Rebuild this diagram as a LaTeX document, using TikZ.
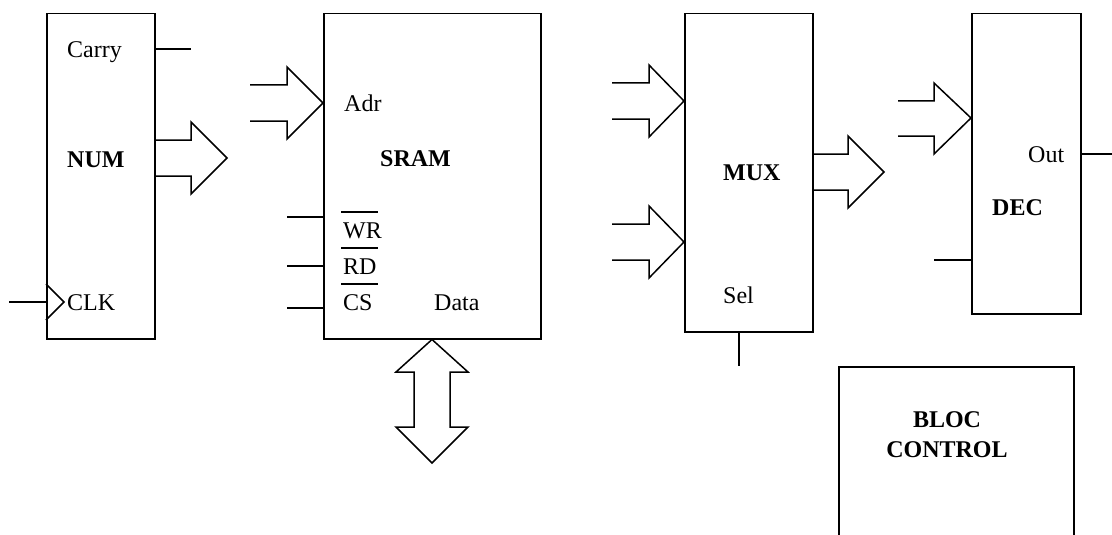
\documentclass[tikz,border=0pt]{standalone}
\usepackage{fontspec}
\setmainfont{Liberation Serif}
\begin{document}
\begin{tikzpicture}[x=1pt,y=-1pt,
  box/.style={draw,line width=1.5pt,rectangle,inner sep=0pt,anchor=north west},
  wire/.style={line width=1.5pt},
  fat/.style={line width=1.5pt,line join=miter},
  lbl/.style={inner sep=0pt,anchor=base west,font=\fontsize{24}{28}\selectfont},
  blbl/.style={lbl,font=\fontsize{24}{28}\selectfont\bfseries}]
\useasboundingbox (0,0) rectangle (1112,535);
% boxes
\node[box,minimum width=108pt,minimum height=325pt] (num) at (46,13) {};
\node[box,minimum width=217pt,minimum height=325pt] (sram) at (323,13) {};
\node[box,minimum width=128pt,minimum height=318pt] (mux) at (684,13) {};
\node[box,minimum width=109pt,minimum height=300pt] (dec) at (971,13) {};
\node[box,minimum width=235pt,minimum height=200pt] (ctrl) at (838,366) {};
% labels
\node[lbl] (carry) at (67,58) {Carry};
\node[blbl] (numl) at (67,167) {NUM};
\node[lbl] (clk) at (67,310) {CLK};
\node[lbl] (adr) at (344,111) {Adr};
\node[blbl] (srl) at (380,166) {SRAM};
\node[lbl] (wr) at (343,238) {WR};
\node[lbl] (rd) at (343,274) {RD};
\node[lbl] (cs) at (343,310) {CS};
\node[lbl] (data) at (434,310) {Data};
\node[blbl] (muxl) at (723,180) {MUX};
\node[lbl] (sel) at (723,303) {Sel};
\node[blbl] (decl) at (992,215) {DEC};
\node[lbl] (out) at (1028,162) {Out};
\node[blbl,anchor=base] (bloc) at (947,427) {BLOC};
\node[blbl,anchor=base] (contr) at (947,457) {CONTROL};
% overlines
\draw[wire] (341,212) -- (378,212);
\draw[wire] (341,248) -- (378,248);
\draw[wire] (341,284) -- (378,284);
% NUM wires
\draw[wire] (num.east |- {(0,49)}) -- (191,49);
\coordinate (clkin) at (9,302);
\draw[wire] (clkin) -- (num.west |- clkin);
\draw[wire] (46,284) -- (64,302) -- (46,320);
% NUM output fat arrow
\draw[fat] (num.east |- {(0,140)}) -- (191,140) -- (191,122) -- (227,158) -- (191,194) -- (191,176) -- (num.east |- {(0,176)});
% SRAM input fat arrow
\draw[fat] (250,85) -- (287,85) -- (287,67) -- (sram.west |- {(0,103)}) -- (287,139) -- (287,121) -- (250,121);
% SRAM control wires
\draw[wire] (287,217) -- (sram.west |- {(0,217)});
\draw[wire] (287,266) -- (sram.west |- {(0,266)});
\draw[wire] (287,308) -- (sram.west |- {(0,308)});
% Data double arrow
\draw[fat] (sram.south -| {(432,0)}) -- (468,372) -- (450,372) -- (450,427) -- (468,427) -- (432,463) -- (396,427) -- (414,427) -- (414,372) -- (396,372) -- cycle;
% MUX inputs
\draw[fat] (612,83) -- (649,83) -- (649,65) -- (mux.west |- {(0,101)}) -- (649,137) -- (649,119) -- (612,119);
\draw[fat] (612,224) -- (649,224) -- (649,206) -- (mux.west |- {(0,242)}) -- (649,278) -- (649,260) -- (612,260);
% MUX output
\draw[fat] (mux.east |- {(0,154)}) -- (848,154) -- (848,136) -- (884,172) -- (848,208) -- (848,190) -- (mux.east |- {(0,190)});
% Sel
\draw[wire] (mux.south -| {(739,0)}) -- (739,366);
% DEC input
\draw[fat] (898,101) -- (934,101) -- (934,83) -- (dec.west |- {(0,118)}) -- (934,154) -- (934,136) -- (898,136);
\draw[wire] (934,260) -- (dec.west |- {(0,260)});
% Out
\draw[wire] (dec.east |- {(0,154)}) -- (1112,154);
\end{tikzpicture}
\end{document}
